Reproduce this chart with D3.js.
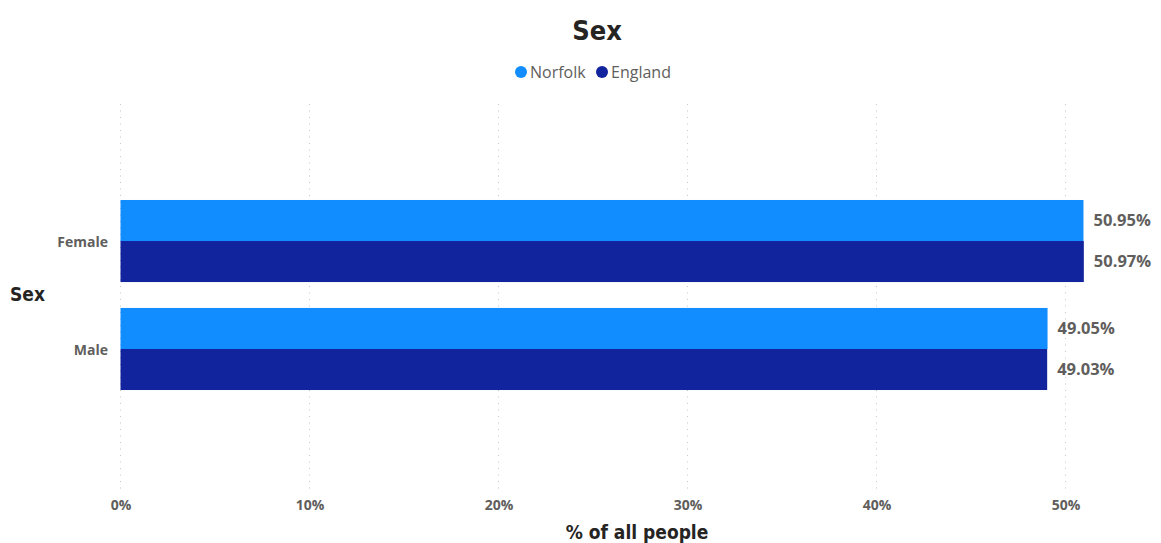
<!DOCTYPE html>
<html>
<head>
<meta charset="utf-8">
<script src="https://cdn.jsdelivr.net/npm/d3@7"></script>
<style>
  html, body { margin: 0; padding: 0; background: #fff; }
  svg { display: block; }
</style>
</head>
<body>
<svg id="chart" width="1161" height="543"></svg>
<script>
// Share of people by sex, Norfolk vs England
const categories = ["Female", "Male"];
const seriesNames = ["Norfolk", "England"];
const norfolkValues = [50.95, 49.05];
const englandValues = [50.97, 49.03];
const tickValues = [0, 10, 20, 30, 40, 50];
const colors = ["#118DFF", "#12239E"];

const data = categories.map((c, i) => ({
  category: c,
  values: [
    { series: seriesNames[0], value: norfolkValues[i] },
    { series: seriesNames[1], value: englandValues[i] }
  ]
}));

const svg = d3.select("#chart");
const font = "'Open Sans', 'Segoe UI', sans-serif";
const titleFont = "'DejaVu Sans Condensed', 'DejaVu Sans', sans-serif";

const x = d3.scaleLinear().domain([0, 50]).range([120.5, 1065.5]);
const y = d3.scaleBand().domain(categories).range([104, 486])
  .paddingInner(0.24).paddingOuter(0.889);
const ySub = d3.scaleBand().domain(seriesNames).range([0, y.bandwidth()]);
const color = d3.scaleOrdinal().domain(seriesNames).range(colors);

// Title
svg.append("text")
  .attr("x", 597).attr("y", 40)
  .attr("text-anchor", "middle")
  .attr("font-family", titleFont)
  .attr("font-weight", "bold")
  .attr("font-size", 27)
  .attr("fill", "#252423")
  .text("Sex");

// Legend
const legendItems = [
  { name: "Norfolk", cx: 521, tx: 530 },
  { name: "England", cx: 602, tx: 611 }
];
const legend = svg.append("g");
legendItems.forEach(d => {
  legend.append("circle")
    .attr("cx", d.cx).attr("cy", 72).attr("r", 6)
    .attr("fill", color(d.name));
  legend.append("text")
    .attr("x", d.tx).attr("y", 78)
    .attr("font-family", font)
    .attr("font-size", 16)
    .attr("fill", "#605E5C")
    .text(d.name);
});

// Vertical dotted gridlines
const xAxis = d3.axisBottom(x)
  .tickValues(tickValues)
  .tickFormat(d => d + "%")
  .tickSize(0)
  .tickPadding(0);

svg.append("g")
  .selectAll("line")
  .data(tickValues)
  .join("line")
  .attr("x1", d => x(d)).attr("x2", d => x(d))
  .attr("y1", 104).attr("y2", 492)
  .attr("stroke", "#C8C6C4")
  .attr("stroke-width", 1)
  .attr("stroke-dasharray", "1,5.5");

// X axis labels
const gx = svg.append("g")
  .attr("transform", "translate(0,500)")
  .call(xAxis);
gx.select(".domain").remove();
gx.selectAll("text")
  .attr("font-family", font)
  .attr("font-weight", "bold")
  .attr("font-size", 14)
  .attr("fill", "#605E5C")
  .attr("dy", "0.71em");

// X axis title
svg.append("text")
  .attr("x", 637).attr("y", 539)
  .attr("text-anchor", "middle")
  .attr("font-family", titleFont)
  .attr("font-weight", "bold")
  .attr("font-size", 19)
  .attr("fill", "#252423")
  .text("% of all people");

// Y axis labels
const yAxis = d3.axisLeft(y).tickSize(0).tickPadding(12);
const gy = svg.append("g")
  .attr("transform", "translate(120,2)")
  .call(yAxis);
gy.select(".domain").remove();
gy.selectAll("text")
  .attr("font-family", font)
  .attr("font-weight", "bold")
  .attr("font-size", 14)
  .attr("fill", "#605E5C");

// Y axis title
svg.append("text")
  .attr("x", 10).attr("y", 301)
  .attr("font-family", titleFont)
  .attr("font-weight", "bold")
  .attr("font-size", 19)
  .attr("fill", "#252423")
  .text("Sex");

// Bars and value labels
const groups = svg.append("g")
  .selectAll("g")
  .data(data)
  .join("g")
  .attr("transform", d => `translate(0,${y(d.category)})`);

groups.selectAll("rect")
  .data(d => d.values)
  .join("rect")
  .attr("x", x(0))
  .attr("y", d => ySub(d.series))
  .attr("width", d => x(d.value) - x(0))
  .attr("height", ySub.bandwidth())
  .attr("fill", d => color(d.series));

groups.selectAll("text")
  .data(d => d.values)
  .join("text")
  .attr("x", d => x(d.value) + 10)
  .attr("y", d => ySub(d.series) + ySub.bandwidth() / 2)
  .attr("dy", "0.35em")
  .attr("font-family", font)
  .attr("font-weight", "bold")
  .attr("font-size", 16.5)
  .attr("fill", "#605E5C")
  .text(d => d.value.toFixed(2) + "%");
</script>
</body>
</html>
